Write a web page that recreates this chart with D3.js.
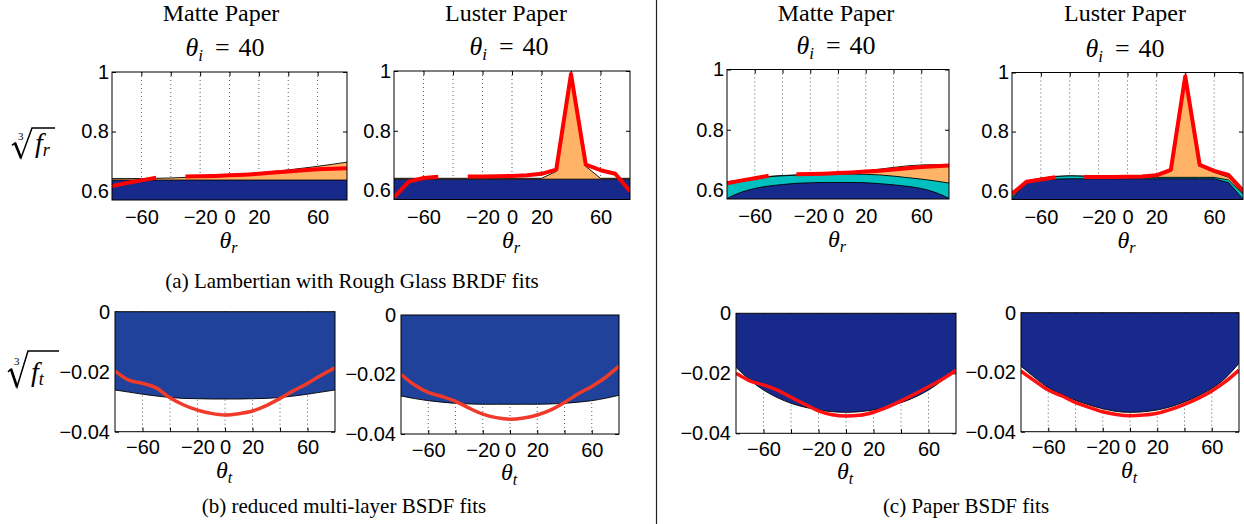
<!DOCTYPE html>
<html>
<head>
<meta charset="utf-8">
<script src="https://d3js.org/d3.v7.min.js"></script>
<style>
  body { margin: 0; background: #fff; }
  .tick text { font-family: "Liberation Sans", Arial, Helvetica, sans-serif; font-size: 20px; fill: #000; }
</style>
</head>
<body>
<svg id="fig" width="1244" height="524"></svg>
<script>
// sample angles (degrees) shared by every panel
const angles = [-80, -70, -60, -50, -40, -30, -20, -10, 0, 10, 20, 30, 40, 50, 60, 70, 80];
const xTicks = [-60, -40, -20, 0, 20, 40, 60];
const xTickLabels = ["\u221260", "", "\u221220", "0", "20", "", "60"];
const yTicksR = [0.6, 0.8, 1];
const yTickLabelsR = ["0.6", "0.8", "1"];
const yTicksT = [-0.04, -0.02, 0];
const yTickLabelsT = ["\u22120.04", "\u22120.02", "0"];

// (a) Lambertian + rough glass BRDF, matte paper
const aMatteDiffuse  = [0.637, 0.637, 0.637, 0.637, 0.637, 0.637, 0.637, 0.637, 0.637, 0.637, 0.637, 0.637, 0.637, 0.637, 0.637, 0.637, 0.637];
const aMatteTotal    = [0.642, 0.642, 0.642, 0.643, 0.644, 0.646, 0.648, 0.651, 0.654, 0.657, 0.661, 0.666, 0.671, 0.677, 0.683, 0.690, 0.697];
const aMatteMeasured = [0.617, 0.627, 0.636, 0.645, null, 0.649, 0.650, 0.651, 0.653, 0.655, 0.658, 0.662, 0.666, 0.670, 0.673, 0.675, 0.677];
// (a) luster paper
const aLusterDiffuse  = [0.638, 0.638, 0.638, 0.638, 0.638, 0.638, 0.638, 0.638, 0.638, 0.638, 0.638, 0.638, 0.638, 0.638, 0.638, 0.638, 0.638];
const aLusterTotal    = [0.641, 0.641, 0.641, 0.641, 0.641, 0.641, 0.641, 0.641, 0.641, 0.641, 0.641, 0.664, 0.990, 0.681, 0.641, 0.641, 0.641];
const aLusterMeasured = [0.577, 0.630, 0.642, 0.646, null, 0.647, 0.647, 0.648, 0.649, 0.651, 0.656, 0.670, 0.990, 0.687, 0.668, 0.656, 0.598];

// (c) paper BRDF, matte paper
const cMatteBase     = [0.572, 0.592, 0.605, 0.613, 0.618, 0.622, 0.624, 0.625, 0.625, 0.625, 0.624, 0.621, 0.617, 0.612, 0.605, 0.592, 0.572];
const cMatteMid      = [0.624, 0.633, 0.639, 0.644, 0.647, 0.649, 0.651, 0.652, 0.653, 0.653, 0.652, 0.650, 0.646, 0.641, 0.636, 0.630, 0.623];
const cMatteTotal    = [0.627, 0.634, 0.640, 0.645, 0.648, 0.650, 0.652, 0.654, 0.656, 0.659, 0.663, 0.669, 0.675, 0.680, 0.683, 0.684, 0.684];
const cMatteMeasured = [0.622, 0.631, 0.639, 0.647, null, 0.652, 0.653, 0.654, 0.656, 0.658, 0.661, 0.664, 0.668, 0.672, 0.676, 0.679, 0.681];
// (c) luster paper
const cLusterBase     = [0.572, 0.628, 0.636, 0.639, 0.640, 0.640, 0.640, 0.640, 0.640, 0.640, 0.640, 0.640, 0.640, 0.640, 0.640, 0.627, 0.572];
const cLusterMid      = [0.580, 0.632, 0.642, 0.648, 0.650, 0.649, 0.646, 0.645, 0.645, 0.645, 0.645, 0.645, 0.645, 0.645, 0.645, 0.636, 0.588];
const cLusterTotal    = [0.580, 0.632, 0.642, 0.648, 0.650, 0.649, 0.647, 0.647, 0.647, 0.648, 0.652, 0.668, 0.985, 0.685, 0.662, 0.645, 0.592];
const cLusterMeasured = [0.589, 0.630, 0.638, 0.645, null, 0.646, 0.646, 0.646, 0.647, 0.648, 0.652, 0.670, 0.987, 0.687, 0.667, 0.653, 0.600];

// (b) reduced multi-layer BSDF, transmission
const bMatteFit       = [-0.0261, -0.0268, -0.0275, -0.0281, -0.0286, -0.0289, -0.0290, -0.0291, -0.0291, -0.0291, -0.0290, -0.0289, -0.0286, -0.0281, -0.0275, -0.0268, -0.0261];
const bMatteMeasured  = [-0.0198, -0.0228, -0.0239, -0.0254, -0.0287, -0.0311, -0.0328, -0.0339, -0.0344, -0.0340, -0.0331, -0.0313, -0.0289, -0.0263, -0.0239, -0.0212, -0.0187];
const bLusterFit      = [-0.0272, -0.0281, -0.0288, -0.0293, -0.0297, -0.0299, -0.0300, -0.0300, -0.0300, -0.0300, -0.0300, -0.0299, -0.0297, -0.0293, -0.0288, -0.0280, -0.0270];
const bLusterMeasured = [-0.0200, -0.0235, -0.0260, -0.0274, -0.0290, -0.0313, -0.0333, -0.0345, -0.0350, -0.0346, -0.0336, -0.0319, -0.0294, -0.0265, -0.0240, -0.0210, -0.0172];
// (c) paper BSDF, transmission
const ctMatteFit       = [-0.0180, -0.0222, -0.0256, -0.0281, -0.0300, -0.0313, -0.0322, -0.0328, -0.0330, -0.0328, -0.0322, -0.0312, -0.0298, -0.0280, -0.0256, -0.0224, -0.0184];
const ctMatteMeasured  = [-0.0200, -0.0225, -0.0239, -0.0256, -0.0280, -0.0303, -0.0325, -0.0338, -0.0342, -0.0340, -0.0330, -0.0313, -0.0292, -0.0269, -0.0245, -0.0220, -0.0190];
const ctLusterFit      = [-0.0180, -0.0218, -0.0252, -0.0275, -0.0295, -0.0310, -0.0323, -0.0332, -0.0335, -0.0333, -0.0327, -0.0316, -0.0300, -0.0280, -0.0255, -0.0220, -0.0170];
const ctLusterMeasured = [-0.0196, -0.0229, -0.0260, -0.0280, -0.0302, -0.0318, -0.0333, -0.0342, -0.0346, -0.0344, -0.0338, -0.0325, -0.0308, -0.0288, -0.0263, -0.0232, -0.0193];

const NAVY = "#172a8b", TEAL = "#00bfbf", ORANGE = "#ffb366", BLUE_B = "#20429a";
const SERIF = "'Liberation Serif', 'Times New Roman', Times, 'DejaVu Serif', serif";

const svg = d3.select("#fig");
let clipN = 0;

function serifText(parent) {
  return parent.append("text").attr("font-family", SERIF).attr("fill", "#000");
}

function drawPanel(p) {
  const [l, t, r, b] = p.box;
  const x = d3.scaleLinear().domain([-80, 80]).range([l, r]);
  const y = d3.scaleLinear().domain(p.yDomain).range([b, t]);
  const g = svg.append("g");
  const cid = "clip" + (clipN++);
  svg.append("clipPath").attr("id", cid).append("rect")
    .attr("x", l).attr("y", t).attr("width", r - l).attr("height", b - t);

  // dotted vertical grid
  g.selectAll(".grid").data(xTicks).join("line")
    .attr("x1", d => x(d)).attr("x2", d => x(d))
    .attr("y1", t).attr("y2", b)
    .attr("stroke", "#333").attr("stroke-width", 0.8)
    .attr("stroke-dasharray", "1,3");

  // axes, ticks pointing inwards
  const yl = g.append("g").attr("transform", `translate(${l},0)`)
    .call(d3.axisLeft(y).tickValues(p.yTicks).tickFormat((d, i) => p.yLabels[i])
      .tickSizeInner(-4).tickSizeOuter(0).tickPadding(p.yPad));
  g.append("g").attr("transform", `translate(${r},0)`)
    .call(d3.axisRight(y).tickValues(p.yTicks).tickFormat("").tickSizeInner(-4).tickSizeOuter(0));
  const xl = g.append("g").attr("transform", `translate(0,${b})`)
    .call(d3.axisBottom(x).tickValues(xTicks).tickFormat((d, i) => xTickLabels[i])
      .tickSizeInner(-4).tickSizeOuter(0).tickPadding(p.xPad));
  g.append("g").attr("transform", `translate(0,${t})`)
    .call(d3.axisTop(x).tickValues(xTicks).tickFormat("").tickSizeInner(-4).tickSizeOuter(0));
  g.selectAll(".domain").remove();
  g.selectAll(".tick line").attr("stroke", "#000");
  yl.selectAll("text").attr("fill", "#000");
  xl.selectAll("text").attr("fill", "#000");

  // fitted components, stacked, outlined in black
  const fits = g.append("g").attr("clip-path", `url(#${cid})`);
  p.layers.forEach(layer => {
    const pts = angles.map((a, i) => [a, layer.values[i]]);
    fits.append("path").datum(pts)
      .attr("fill", layer.color)
      .attr("d", d3.area().x(d => x(d[0])).y0(y(p.base)).y1(d => y(d[1])).curve(p.curve));
    fits.append("path").datum(pts)
      .attr("fill", "none").attr("stroke", "#000").attr("stroke-width", 0.9)
      .attr("d", d3.line().x(d => x(d[0])).y(d => y(d[1])).curve(p.curve));
  });

  // measured data
  const meas = angles.map((a, i) => [a, p.measured[i]]);
  fits.append("path").datum(meas)
    .attr("fill", "none").attr("stroke", p.red).attr("stroke-width", p.redWidth)
    .attr("stroke-linejoin", "round")
    .attr("d", d3.line().defined(d => d[1] !== null).x(d => x(d[0])).y(d => y(d[1])).curve(p.redCurve));

  // axes box
  g.append("rect").attr("x", l).attr("y", t).attr("width", r - l).attr("height", b - t)
    .attr("fill", "none").attr("stroke", "#000").attr("stroke-width", 1);

  // axis label theta_r / theta_t
  const cx = (l + r) / 2;
  const xt = serifText(g).attr("x", cx - 1).attr("y", b + p.labelDy)
    .attr("text-anchor", "middle").style("font-size", "24px").style("font-style", "italic");
  xt.append("tspan").text("\u03b8");
  xt.append("tspan").attr("dy", 5).style("font-size", "16px").text(p.sub);

  if (p.title) {
    serifText(g).attr("x", p.titleX).attr("y", 21)
      .attr("text-anchor", "middle").style("font-size", "24px").text(p.title);
    const th = serifText(g).attr("x", p.thetaX).attr("y", t - 16)
      .attr("text-anchor", "middle").style("font-size", "26px");
    th.append("tspan").style("font-style", "italic").text("\u03b8");
    th.append("tspan").attr("dy", 5).style("font-style", "italic").style("font-size", "17px").text("i");
    th.append("tspan").attr("dy", -5).attr("dx", 12).text("=");
    th.append("tspan").attr("dx", 9).text("40");
  }
}

const topCommon = { yDomain: [0.57, 1], yTicks: yTicksR, yLabels: yTickLabelsR, yPad: 3, xPad: 10,
  base: 0.57, red: "#ff0000", redWidth: 4, redCurve: d3.curveLinear, labelDy: 48, sub: "r" };
const botCommon = { yDomain: [-0.04, 0], yTicks: yTicksT, yLabels: yTickLabelsT, yPad: 5, xPad: 8.5,
  base: 0, redWidth: 3.5, redCurve: d3.curveMonotoneX, curve: d3.curveMonotoneX, labelDy: 46, sub: "t" };

drawPanel({ ...topCommon, box: [112, 72, 347, 200], title: "Matte Paper", titleX: 221, thetaX: 225, curve: d3.curveMonotoneX,
  layers: [{ values: aMatteTotal, color: ORANGE }, { values: aMatteDiffuse, color: NAVY }], measured: aMatteMeasured });
drawPanel({ ...topCommon, box: [394, 71, 630, 199.5], title: "Luster Paper", titleX: 506, thetaX: 509, curve: d3.curveLinear,
  layers: [{ values: aLusterTotal, color: ORANGE }, { values: aLusterDiffuse, color: NAVY }], measured: aLusterMeasured });
drawPanel({ ...topCommon, box: [727, 69.5, 949, 199], title: "Matte Paper", titleX: 836, thetaX: 836, curve: d3.curveMonotoneX,
  layers: [{ values: cMatteTotal, color: ORANGE }, { values: cMatteMid, color: TEAL }, { values: cMatteBase, color: NAVY }], measured: cMatteMeasured });
drawPanel({ ...topCommon, box: [1012, 72.5, 1243, 199.5], title: "Luster Paper", titleX: 1125, thetaX: 1125, curve: d3.curveLinear,
  layers: [{ values: cLusterTotal, color: ORANGE }, { values: cLusterMid, color: TEAL }, { values: cLusterBase, color: NAVY }], measured: cLusterMeasured });

drawPanel({ ...botCommon, box: [115, 311.7, 335, 431.7], red: "#f03a2a",
  layers: [{ values: bMatteFit, color: BLUE_B }], measured: bMatteMeasured });
drawPanel({ ...botCommon, box: [401, 315, 619, 434], red: "#f03a2a",
  layers: [{ values: bLusterFit, color: BLUE_B }], measured: bLusterMeasured });
drawPanel({ ...botCommon, box: [736, 313.3, 956, 433.3], red: "#ff1010",
  layers: [{ values: ctMatteFit, color: NAVY }], measured: ctMatteMeasured });
drawPanel({ ...botCommon, box: [1021, 312.7, 1239, 431.7], red: "#ff1010",
  layers: [{ values: ctLusterFit, color: NAVY }], measured: ctLusterMeasured });

// y-axis labels: cube root of f_r and f_t (radical sign drawn as a stroke)
function rootLabel(x0, top, bot, end, sub) {
  const h = bot - top;
  const g = svg.append("g");
  g.append("path")
    .attr("d", `M${x0},${top + h * 0.58} L${x0 + 3},${top + h * 0.5} L${x0 + 9},${bot} L${x0 + 20},${top} L${end},${top}`)
    .attr("fill", "none").attr("stroke", "#000").attr("stroke-width", 1.5).attr("stroke-linejoin", "miter");
  g.append("path")
    .attr("d", `M${x0 + 3},${top + h * 0.5} L${x0 + 9},${bot}`)
    .attr("stroke", "#000").attr("stroke-width", 2.6);
  serifText(g).attr("x", x0 + 6).attr("y", top + h * 0.4).style("font-size", "11px").text("3");
  const f = serifText(g).attr("x", x0 + 23).attr("y", bot - 6)
    .style("font-size", "28px").style("font-style", "italic");
  f.append("tspan").text("f");
  f.append("tspan").attr("dy", 4).style("font-size", "18px").text(sub);
}
rootLabel(12, 128, 158, 55, "r");
rootLabel(8, 351, 387, 59, "t");

// sub-figure captions
const captions = [
  { text: "(a) Lambertian with Rough Glass BRDF fits", x: 352, y: 288 },
  { text: "(b) reduced multi-layer BSDF fits", x: 344, y: 513 },
  { text: "(c) Paper BSDF fits", x: 966, y: 513 }
];
captions.forEach(c => {
  serifText(svg).attr("x", c.x).attr("y", c.y).attr("text-anchor", "middle")
    .style("font-size", "21px").text(c.text);
});

// separator between (a)/(b) and (c)
svg.append("line").attr("x1", 656.5).attr("x2", 656.5).attr("y1", 0).attr("y2", 524)
  .attr("stroke", "#222").attr("stroke-width", 1.2);
</script>
</body>
</html>
